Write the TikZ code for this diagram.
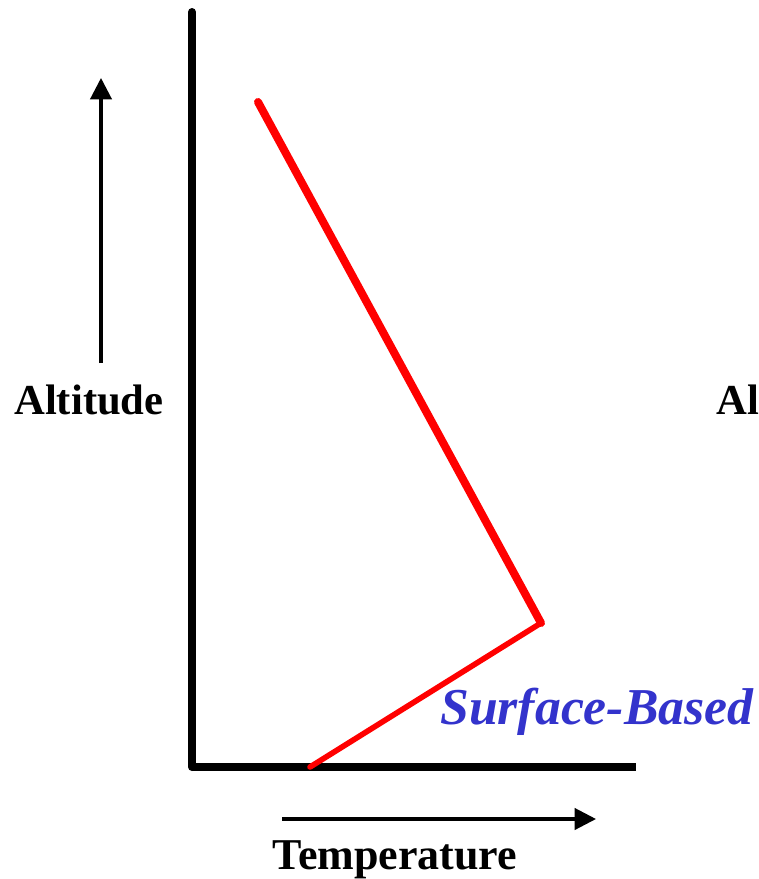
\documentclass[tikz,border=0pt]{standalone}
\usepackage{fontspec}
\setmainfont{Liberation Serif}
\usepackage{xcolor}
\usetikzlibrary{arrows.meta, positioning}
\definecolor{surfblue}{HTML}{3333CC}
\definecolor{profred}{HTML}{FF0000}

\begin{document}
\begin{tikzpicture}[
    x=0.75pt, y=-0.75pt,
    >={Triangle[length=16pt, width=16pt]},
    axisline/.style={line width=6pt, black},
    profile/.style={profred, line cap=round, line join=round},
    dirarrow/.style={->, line width=2.3pt},
    axlabel/.style={font=\fontsize{32}{38}\selectfont\bfseries, inner sep=0pt},
    typelabel/.style={font=\fontsize{38.8}{44}\selectfont\bfseries\itshape, text=surfblue, inner sep=0pt},
]
    \useasboundingbox (0,0) rectangle (759,879);
    \clip (0,0) rectangle (759,879);

    % Axes
    \coordinate (top) at (192,12);
    \coordinate (origin) at (192,767);
    \coordinate (xend) at (636,767);
    \draw[axisline, line cap=round] (origin) -- (top);
    \draw[axisline] (origin) -- (xend);

    % Temperature profile
    \coordinate (aloft) at (258,102);
    \coordinate (invtop) at (541,623);
    \coordinate (ground) at (310,767);
    \draw[profile, line width=6pt] (aloft) -- (invtop);
    \draw[profile, line width=4.2pt] (invtop) -- (ground);

    % Direction arrows
    \coordinate (altfoot) at (101,363);
    \coordinate (althead) at (101,78);
    \coordinate (tempfoot) at (282,819);
    \coordinate (temphead) at (596,819);
    \draw[dirarrow] (altfoot) -- (althead);
    \draw[dirarrow] (tempfoot) -- (temphead);

    % Labels
    \node[axlabel] (alt) at (89,400) {Altitude};
    \node[font=\fontsize{33}{39}\selectfont\bfseries, inner sep=0pt] (temp) at (395,860) {Temperature};
    \node[axlabel, anchor=west] (altnext) at (716,400) {Al};
    \node[typelabel, anchor=west] (surf) at (440,712) {Surface-Based};

\end{tikzpicture}
\end{document}
